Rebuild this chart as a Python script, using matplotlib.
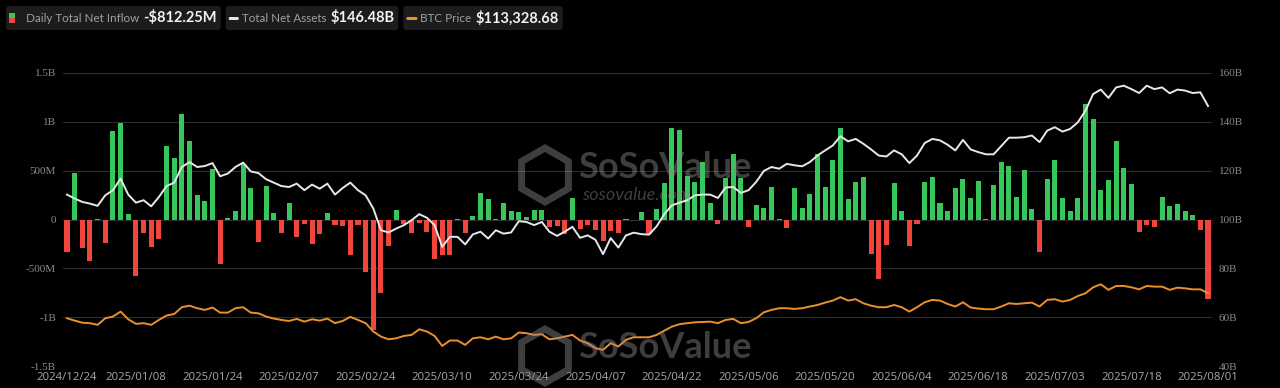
import numpy as np
import pandas as pd
import matplotlib
matplotlib.use("Agg")
import matplotlib.pyplot as plt
from matplotlib.patches import FancyBboxPatch, RegularPolygon, Rectangle

# trading days 2024/12/24 .. 2025/08/01
holidays = ['2024-12-25', '2025-01-01', '2025-01-09', '2025-01-20', '2025-02-17',
            '2025-04-18', '2025-05-26', '2025-06-19', '2025-07-04']
dates = pd.bdate_range('2024-12-24', '2025-08-01', freq='C', holidays=holidays)

# daily total net inflow, million USD
net_inflow = [
    -330, 476, -296, -422, 10, -238, 911, 989, 54, -578,
    -143, -279, -204, 751, 629, 1078, 806, 252, 190, 520,
    -456, 17, 92, 568, 323, -231, 343, 68, -136, 173,
    -184, -51, -248, -153, 68, -58, -68, -364, -58, -534,
    -1129, -748, -272, 95, -48, -143, -34, -133, -405, -364,
    -364, 10, -139, 37, 275, 211, 10, 170, 85, 78,
    27, 93, 93, -75, -66, -150, 221, -93, -60, -105,
    -220, -115, -138, 2, 0, 78, -148, 112, 378, 938,
    918, 445, 384, 588, 173, -51, 425, 673, 425, -75,
    146, 119, 337, 5, -92, 323, 119, 262, 670, 333,
    612, 938, 214, 384, 435, -354, -612, -262, 377, 88,
    -272, -44, 384, 435, 170, 88, 326, 418, 221, 391,
    3, 350, 588, 551, 231, 503, 105, -330, 411, 605,
    221, 85, 221, 1183, 1030, 299, 405, 802, 527, 364,
    -126, -58, -78, 231, 136, 160, 85, 51, -109, -812.25,
]

# total net assets, billion USD
net_assets = [
    110.2, 108.6, 107.2, 106.5, 105.6, 109.9, 112.0, 116.7, 110.2, 106.9,
    107.9, 105.4, 109.2, 113.7, 115.1, 121.5, 123.5, 121.5, 121.9, 123.1,
    117.7, 118.8, 121.5, 123.3, 119.7, 119.0, 116.5, 115.1, 113.7, 113.3,
    114.7, 112.0, 114.3, 112.6, 114.7, 110.2, 112.9, 115.1, 112.0, 109.9,
    104.5, 95.6, 94.7, 96.3, 97.7, 99.7, 102.2, 100.7, 97.7, 88.8,
    92.9, 92.9, 89.8, 93.9, 95.0, 92.2, 95.6, 94.2, 94.7, 99.3,
    99.0, 97.7, 99.0, 95.0, 93.3, 95.0, 97.0, 92.5, 93.5, 91.7,
    85.8, 92.4, 88.5, 93.5, 94.6, 94.0, 93.8, 97.2, 102.2, 105.8,
    106.9, 107.9, 109.9, 110.2, 110.2, 108.8, 113.1, 113.3, 110.9, 112.0,
    115.4, 119.9, 121.5, 120.8, 122.8, 122.2, 121.8, 123.5, 126.2, 128.3,
    130.3, 134.1, 132.0, 133.0, 131.0, 128.7, 126.2, 125.8, 128.3, 126.7,
    123.1, 126.2, 131.3, 133.0, 132.4, 130.6, 128.3, 132.6, 128.7, 127.6,
    126.7, 126.7, 130.1, 133.5, 133.5, 133.7, 134.4, 131.7, 136.4, 137.8,
    136.0, 137.1, 139.8, 144.6, 151.4, 153.2, 149.8, 154.1, 154.8, 153.4,
    151.8, 154.8, 153.4, 154.1, 151.7, 153.2, 152.8, 151.8, 152.1, 146.48,
]

# BTC price, thousand USD
btc_price = [
    98.6, 97.2, 96.0, 95.7, 94.7, 98.6, 99.6, 102.5, 98.0, 95.3,
    95.7, 94.7, 97.6, 100.2, 101.1, 105.1, 106.0, 104.5, 103.5, 104.9,
    101.9, 101.9, 104.5, 105.1, 101.9, 101.5, 99.6, 98.4, 97.6, 97.0,
    98.2, 96.6, 98.0, 97.2, 98.4, 95.7, 97.0, 99.4, 97.6, 95.7,
    90.8, 87.8, 86.2, 86.8, 88.2, 88.8, 92.1, 90.8, 88.2, 82.3,
    85.5, 85.5, 82.9, 86.8, 87.4, 86.2, 87.8, 86.2, 86.8, 90.2,
    89.8, 88.8, 89.2, 86.2, 86.8, 87.8, 88.8, 85.5, 83.9, 81.0,
    80.0, 83.9, 82.0, 85.9, 87.4, 87.4, 87.4, 88.8, 91.3, 93.7,
    95.1, 95.7, 96.2, 96.4, 96.6, 95.7, 97.6, 98.2, 95.7, 96.4,
    98.6, 102.1, 103.5, 104.5, 104.5, 104.1, 104.5, 105.5, 106.4, 107.8,
    109.0, 111.0, 109.0, 109.8, 107.4, 106.0, 105.1, 105.1, 106.4, 105.1,
    102.5, 105.1, 108.0, 109.4, 109.0, 107.0, 105.5, 108.0, 104.9, 104.3,
    103.9, 103.9, 105.5, 107.4, 107.0, 107.4, 107.8, 105.5, 109.4, 109.8,
    108.4, 109.4, 111.7, 113.3, 116.8, 118.6, 115.3, 117.6, 117.6, 116.8,
    115.6, 117.6, 117.2, 117.2, 115.3, 116.6, 116.2, 115.6, 115.6, 113.33,
]

tick_idx = [0, 9, 19, 29, 39, 49, 59, 69, 79, 89, 99, 109, 119, 129, 139, 149]
left_ticks = [-1.5, -1, -0.5, 0, 0.5, 1, 1.5]
left_labels = ['-1.5B', '-1B', '-500M', '0', '500M', '1B', '1.5B']
right_ticks = [40, 60, 80, 100, 120, 140, 160]
right_labels = ['40B', '60B', '80B', '100B', '120B', '140B', '160B']
legend_labels = ['Daily Total Net Inflow', 'Total Net Assets', 'BTC Price']
legend_values = ['-$812.25M', '$146.48B', '$113,328.68']

GREEN = '#35c759'
RED = '#f1453d'
ORANGE = '#ec8f2c'
WHITE = '#e8e8e8'
BG = '#000000'

W, H = 1280, 388
fig = plt.figure(figsize=(W / 100, H / 100), dpi=100, facecolor=BG)
x0, x1, ytop, ybot = 63, 1212, 73, 366
ax = fig.add_axes([x0 / W, 1 - ybot / H, (x1 - x0) / W, (ybot - ytop) / H])
ax.set_facecolor(BG)

x = np.arange(len(dates))
flows_b = np.array(net_inflow) / 1000.0
colors = [GREEN if v >= 0 else RED for v in flows_b]
ax.bar(x, flows_b, width=0.66, color=colors, zorder=2)
ax.set_xlim(-0.52, len(dates) - 0.48)
ax.set_ylim(-1.5, 1.5)
for t in left_ticks[1:]:
    ax.axhline(t, color='#2e2e2e', lw=0.8, zorder=0)
ax.axhline(-1.5, color='#3a3a3a', lw=0.8, ls=(0, (1, 2)), zorder=0)

ax2 = ax.twinx()
ax2.set_ylim(40, 160)
ax2.plot(x, net_assets, color=WHITE, lw=1.4, zorder=3)

ax3 = ax.twinx()
ax3.set_ylim(70.5, 242.9)
ax3.plot(x, btc_price, color=ORANGE, lw=1.4, zorder=3)
ax3.axis('off')

serif = 'Liberation Serif'
ax.set_yticks(left_ticks)
ax.set_yticklabels(left_labels, fontfamily=serif, fontsize=8, color='#8a8a8a')
ax2.set_yticks(right_ticks)
ax2.set_yticklabels(right_labels, fontfamily=serif, fontsize=8, color='#8a8a8a')
ax.set_xticks(tick_idx)
ax.set_xticklabels([dates[i].strftime('%Y/%m/%d') for i in tick_idx],
                   fontfamily='Open Sans', fontsize=8.2, color='#a8a8a8')
for a in (ax, ax2):
    a.tick_params(length=0, pad=5)
    for s in a.spines.values():
        s.set_visible(False)
ax.tick_params(axis='x', pad=4)

tr = fig.dpi_scale_trans
def px(xp, yp):
    return (xp / 100, (H - yp) / 100)

# watermarks
for cy, show_url in ((175, True), (356, False)):
    fig.add_artist(RegularPolygon(px(545, cy), numVertices=6, radius=0.27, orientation=0,
                                  facecolor='none', edgecolor='#8a8a8a', lw=5, alpha=0.45,
                                  transform=tr, zorder=10))
    fig.text(*px(578, cy - 8), 'SoSoValue', transform=tr, fontsize=26,
             fontweight='bold', fontfamily='Lato', color='#8a8a8a',
             alpha=0.45, va='center', ha='left', zorder=10)
    if show_url:
        fig.text(*px(582, cy + 20), 'sosovalue.com', transform=tr, fontsize=13,
                 style='italic', fontfamily='Lato', color='#8a8a8a',
                 alpha=0.45, va='center', ha='left', zorder=10)

# legend boxes, laid out from measured text widths
renderer = fig.canvas.get_renderer()
cur = 6
icon_w = [10, 10, 11]
for k, (lab, val) in enumerate(zip(legend_labels, legend_values)):
    bx0 = cur
    icon_x = bx0 + 3
    if k == 0:
        fig.add_artist(Rectangle(px(icon_x, 18), 0.06, 0.05, facecolor=GREEN, transform=tr))
        fig.add_artist(Rectangle(px(icon_x, 23), 0.06, 0.05, facecolor=RED, transform=tr))
        lx = bx0 + 20
    else:
        fig.add_artist(FancyBboxPatch(px(icon_x, 20), icon_w[k] / 100, 0.03,
                                      boxstyle='round,pad=0,rounding_size=0.012',
                                      facecolor=WHITE if k == 1 else ORANGE,
                                      edgecolor='none', transform=tr))
        lx = icon_x + icon_w[k] + 3
    t1 = fig.text(*px(lx, 18), lab, transform=tr, fontsize=8.4,
                  fontfamily='Lato', color='#a0a0a0', va='center', ha='left')
    w1 = t1.get_window_extent(renderer).width
    vx = lx + w1 + 4
    t2 = fig.text(*px(vx, 18), val, transform=tr, fontsize=10.5,
                  fontfamily='Lato', fontweight='bold', color='#f2f2f2', va='center', ha='left')
    w2 = t2.get_window_extent(renderer).width
    bx1 = vx + w2 + 4
    fig.add_artist(FancyBboxPatch(px(bx0, 30), (bx1 - bx0) / 100, 0.24,
                                  boxstyle='round,pad=0,rounding_size=0.03',
                                  facecolor='#1c1c1c', edgecolor='none',
                                  transform=tr, zorder=-1))
    cur = bx1 + 5

fig.savefig('out.png', dpi=100, facecolor=BG)
